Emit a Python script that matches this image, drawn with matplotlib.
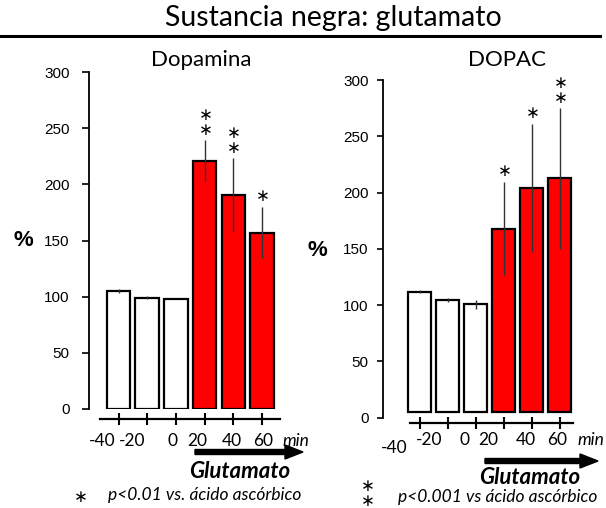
import matplotlib
matplotlib.use("Agg")
import matplotlib.pyplot as plt

# valores (% respecto a basal)
minutos = ["-40", "-20", "0", "20", "40", "60"]
dopamina = [105, 99, 97.5, 221, 190.5, 157]
dopamina_err = [2, 1.5, 0, 18.5, 33, 23]
dopamina_stars = [0, 0, 0, 2, 2, 1]
dopac = [112, 104.5, 101, 168, 204, 212.5]
dopac_err = [1, 2, 4, 41.5, 56.5, 63]
dopac_stars = [0, 0, 0, 1, 1, 2]
colores = ["white", "white", "white", "#ff0000", "#ff0000", "#ff0000"]
yticks = [0, 50, 100, 150, 200, 250, 300]

W, H = 606, 508
calibri = ["Lato", "DejaVu Sans"]
arial = ["Liberation Sans", "DejaVu Sans"]
plt.rcParams["mathtext.fontset"] = "dejavusans"
STARS = {1: r"$\ast$", 2: r"$\genfrac{}{}{0}{0}{\ast}{\ast}$"}

fig = plt.figure(figsize=(W / 100, H / 100), dpi=100)


def fx(x):
    return x / W


def fy(y):
    return 1 - y / H


def panel(ax_x, y0, k, s, c0, xmax, ytop, spine_lo, spine_hi, out_px, base,
          vals, errs, stars, width, tick_pad, tick_len, lab_dx, lab_dy):
    # posicion de los ejes a partir de pixeles de la imagen
    xmin = (ax_x - c0) / s
    ax = fig.add_axes([fx(ax_x), (H - y0) / H, (xmax - xmin) * s / W, ytop * k / H])
    ax.set_xlim(xmin, xmax)
    ax.set_ylim(0, ytop)
    pos = list(range(len(vals)))
    alturas = [v - base for v in vals]
    ax.bar(pos, alturas, bottom=base, width=width, color=colores,
           edgecolor="black", linewidth=1.6, zorder=2)
    ax.errorbar(pos, vals, yerr=errs, fmt="none", ecolor="#333333",
                elinewidth=1, capsize=0, zorder=3)
    for i, n in enumerate(stars):
        if n:
            ax.annotate(STARS[n], xy=(pos[i], vals[i] + errs[i]), xytext=(0, 2),
                        textcoords="offset pixels", ha="center", va="bottom",
                        fontsize=12, annotation_clip=False)
    for sp in ["top", "right"]:
        ax.spines[sp].set_visible(False)
    ax.spines["left"].set_bounds(0, 300)
    ax.spines["left"].set_linewidth(1.3)
    ax.spines["bottom"].set_position(("outward", out_px * 0.72))
    ax.spines["bottom"].set_bounds(spine_lo, spine_hi)
    ax.spines["bottom"].set_linewidth(1.6)
    ax.set_yticks(yticks)
    ax.set_yticklabels([str(t) for t in yticks], family=arial, fontsize=11)
    ax.tick_params(axis="y", length=tick_len, width=1.2, pad=tick_pad, colors="black")
    ax.set_xticks(pos)
    ax.tick_params(axis="x", direction="inout", length=8, width=1.5, labelbottom=False)
    for i, lab in enumerate(minutos):
        ax.annotate(lab, xy=(pos[i], 0), xytext=(lab_dx[i], -lab_dy[i]),
                    textcoords="offset pixels", ha="center", va="center",
                    fontsize=12.5, family=calibri, annotation_clip=False)
    return ax


panel(89, 409, 337 / 300, 28.7, 118.5, 5.75, 310, -0.645, 5.63, 10, 0,
      dopamina, dopamina_err, dopamina_stars, 0.82, 9, 5,
      [-16, -15, -3, -7, -1, 1], [32, 32, 32, 32, 32, 32])
panel(383, 417.7, 337.7 / 300, 28.0, 419.5, 5.6, 310, -0.34, 5.48, 5.3, 5,
      dopac, dopac_err, dopac_stars, 0.84, 6, 4.3,
      [-25, -18, -11, -15, -6, -2], [30, 22, 22, 22, 22, 22])

# titulo y linea
fig.text(fx(333), fy(18), "Sustancia negra: glutamato", ha="center", va="center",
         fontsize=20.5, family=calibri)
fig.add_artist(plt.Line2D([0, fx(600)], [fy(36), fy(36)], color="black", linewidth=2.2))
fig.text(fx(201), fy(60), "Dopamina", ha="center", va="center", fontsize=16, family=calibri)
fig.text(fx(507), fy(60), "DOPAC", ha="center", va="center", fontsize=16, family=calibri)
fig.text(fx(23), fy(240), "%", ha="center", va="center", fontsize=16,
         fontweight="bold", family=arial)
fig.text(fx(317), fy(250), "%", ha="center", va="center", fontsize=16,
         fontweight="bold", family=arial)

# "min", flecha y leyenda de cada panel
for mx, my, a0, a1, ay, gx, gy in [(282, 441, 195, 303, 452, 240, 471),
                                   (577, 440, 485, 598, 461, 530, 478)]:
    fig.text(fx(mx), fy(my), "min", ha="left", va="center", fontsize=12.5,
             style="italic", family=calibri)
    fig.add_artist(matplotlib.patches.FancyArrow(
        fx(a0), fy(ay), fx(a1 - a0), 0, width=5 / H, head_width=14 / H,
        head_length=fx(18), length_includes_head=True, color="black",
        transform=fig.transFigure))
    fig.text(fx(gx), fy(gy), "Glutamato", ha="center", va="center", fontsize=16,
             fontweight="bold", style="italic", family=calibri)

fig.text(fx(80), fy(497), STARS[1], ha="center", va="center", fontsize=12)
fig.text(fx(108), fy(495), "p<0.01 vs. ácido ascórbico", ha="left", va="center",
         fontsize=12.5, style="italic", family=calibri)
fig.text(fx(367), fy(494), STARS[2], ha="center", va="center", fontsize=12)
fig.text(fx(398), fy(497), "p<0.001 vs ácido ascórbico", ha="left", va="center",
         fontsize=12.5, style="italic", family=calibri)

fig.savefig("out.png", dpi=100)
